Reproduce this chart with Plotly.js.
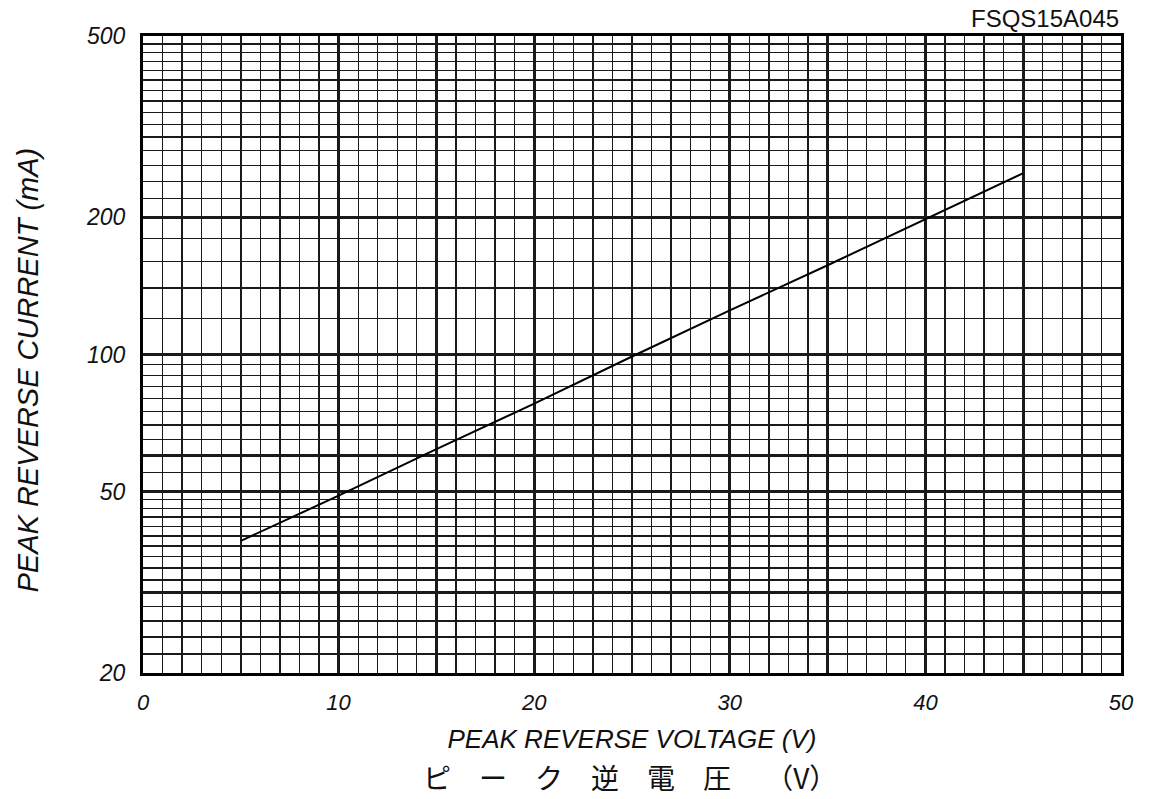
<!DOCTYPE html>
<html>
<head>
<meta charset="utf-8">
<script src="https://cdn.plot.ly/plotly-3.0.1.min.js"></script>
<style>html,body{margin:0;padding:0;background:#fff;}#chart{width:1150px;height:799px;}</style>
</head>
<body>
<div id="chart"></div>
<script>
// Data
const voltage = [5, 10, 15, 20, 25, 30, 35, 40, 45];
const current = [39, 49, 62, 78, 99, 125, 157, 198, 250];

// Axis ticks / grid values
const xMajorVals = [0, 5, 10, 15, 20, 25, 30, 35, 40, 45, 50];
const xMajorText = ["0", "", "10", "", "20", "", "30", "", "40", "", "50"];
const yMajorVals = [20, 30, 40, 50, 60, 70, 100, 200, 300, 400, 500];
const yMajorText = ["20", "", "", "50", "", "", "100", "200", "", "", "500"];
const yMinorVals = [22, 24, 26, 28, 32, 34, 36, 38, 42, 44, 46, 48, 55, 65, 75, 80, 85, 90, 95,
                    120, 140, 160, 180, 220, 240, 260, 280, 320, 340, 360, 380, 420, 440, 460, 480];

const partNo = "FSQS15A045";
const xTitleEn = "PEAK REVERSE VOLTAGE (V)";
const xTitleJa = "ピ　ー　ク　逆　電　圧　 （V）";
const yTitle = "PEAK REVERSE CURRENT (mA)";

const FONT = "Liberation Sans, Arial, sans-serif";
const GRID = "#1a1a1a";

const trace = {
  x: voltage, y: current, type: "scatter", mode: "lines",
  line: {color: "#000", width: 2}, hoverinfo: "x+y", showlegend: false
};

const layout = {
  width: 1150, height: 799,
  margin: {l: 143, r: 29, t: 36, b: 126},
  paper_bgcolor: "#fff", plot_bgcolor: "#fff",
  font: {family: FONT, color: "#111"},
  xaxis: {
    range: [0, 50], tickmode: "array", tickvals: xMajorVals, ticktext: xMajorText,
    ticks: "", ticklabelstandoff: 8,
    tickfont: {family: FONT, size: 22, style: "italic", color: "#111"},
    showgrid: true, gridcolor: GRID, gridwidth: 2.6,
    minor: {dtick: 1, showgrid: true, gridcolor: GRID, gridwidth: 1.3, ticks: ""},
    showline: true, linecolor: "#000", linewidth: 3, mirror: true, zeroline: false,
    title: {text: xTitleEn, font: {family: FONT, size: 26, style: "italic", color: "#111"}, standoff: 16}
  },
  yaxis: {
    type: "log", range: [Math.log10(20), Math.log10(500)],
    tickmode: "array", tickvals: yMajorVals, ticktext: yMajorText,
    ticks: "", ticklabelstandoff: 10,
    tickfont: {family: FONT, size: 23, style: "italic", color: "#111"},
    showgrid: true, gridcolor: GRID, gridwidth: 2.6,
    minor: {tickmode: "array", tickvals: yMinorVals, showgrid: true, gridcolor: GRID, gridwidth: 1.3, ticks: ""},
    showline: true, linecolor: "#000", linewidth: 3, mirror: true, zeroline: false
  },
  annotations: [
    {text: partNo, xref: "paper", yref: "paper", x: 1.0, y: 1.0, xanchor: "right", yanchor: "bottom",
     yshift: 2, showarrow: false, font: {family: FONT, size: 24, color: "#111"}},
    {text: yTitle, xref: "paper", yref: "paper", x: 0, y: 0.5, xanchor: "center", yanchor: "middle",
     textangle: -90, xshift: -116, yshift: -16, showarrow: false,
     font: {family: FONT, size: 29, style: "italic", color: "#111"}},
    {text: xTitleJa, xref: "paper", yref: "paper", x: 0.5, y: 0, xanchor: "center", yanchor: "middle",
     yshift: -104, xshift: -2, showarrow: false, font: {family: "Noto Sans CJK JP", size: 28, color: "#111"}}
  ]
};

Plotly.newPlot("chart", [trace], layout, {staticPlot: true, displayModeBar: false});
</script>
</body>
</html>
